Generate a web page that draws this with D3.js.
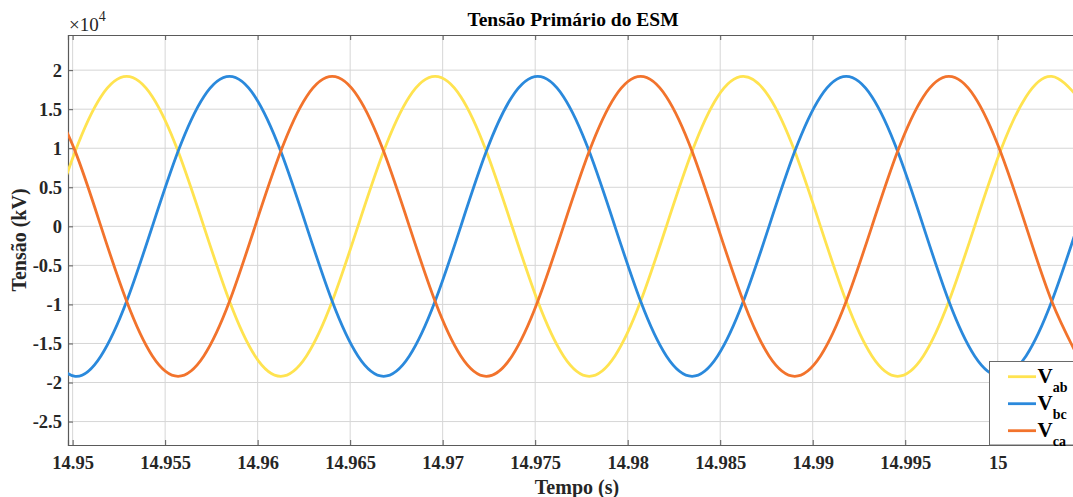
<!DOCTYPE html>
<html><head><meta charset="utf-8">
<script src="https://cdn.jsdelivr.net/npm/d3@7"></script>
<style>
html,body{margin:0;padding:0;background:#fff;overflow:hidden}
svg{display:block}
svg text{font-family:"Liberation Serif","Times New Roman",serif !important}
</style></head>
<body>
<svg id="c" width="1073" height="497"></svg>
<script>
// time samples (s)
const time = [14.94875,14.95014,14.95153,14.95292,14.95431,14.95570,14.95709,14.95848,14.95986,14.96125,
14.96264,14.96403,14.96542,14.96681,14.96820,14.96959,14.97098,14.97236,14.97375,14.97514,
14.97653,14.97792,14.97931,14.98070,14.98209,14.98348,14.98486,14.98625,14.98764,14.98903,
14.99042,14.99181,14.99320,14.99459,14.99598,14.99736,14.99875,15.00014,15.00153,15.00292,15.00431];
const vab = [0,9600,16600,19200,16600,9600,0,-9600,-16600,-19200,-16600,-9600,0,9600,16600,19200,16600,9600,0,-9600,
-16600,-19200,-16600,-9600,0,9600,16600,19200,16600,9600,0,-9600,-16600,-19200,-16600,-9600,0,9600,16600,19200,16600];
const vbc = [-16600,-19200,-16600,-9600,0,9600,16600,19200,16600,9600,0,-9600,-16600,-19200,-16600,-9600,0,9600,16600,19200,
16600,9600,0,-9600,-16600,-19200,-16600,-9600,0,9600,16600,19200,16600,9600,0,-9600,-16600,-19200,-16600,-9600,0];
const vca = [16600,9600,0,-9600,-16600,-19200,-16600,-9600,0,9600,16600,19200,16600,9600,0,-9600,-16600,-19200,-16600,-9600,
0,9600,16600,19200,16600,9600,0,-9600,-16600,-19200,-16600,-9600,0,9600,16600,19200,16600,9600,0,-9600,-16600];
const seriesNames = ["ab","bc","ca"];
const seriesColors = ["#FFE350","#2A89DC","#F2732C"];
const xTicks = [14.95,14.955,14.96,14.965,14.97,14.975,14.98,14.985,14.99,14.995,15];
const xTickLabels = ["14.95","14.955","14.96","14.965","14.97","14.975","14.98","14.985","14.99","14.995","15"];
const yTicks = [-25000,-20000,-15000,-10000,-5000,0,5000,10000,15000,20000];
const yTickLabels = ["-2.5","-2","-1.5","-1","-0.5","0","0.5","1","1.5","2"];

const svg = d3.select("#c");
const L = 68, T = 35, B = 445, R = 1081;
const x = d3.scaleLinear().domain([14.94975, 15.0045]).range([L, R]);
const y = d3.scaleLinear().domain([-28000, 24500]).range([B, T]);

svg.append("defs").append("clipPath").attr("id","clip")
  .append("rect").attr("x",L).attr("y",T).attr("width",R-L).attr("height",B-T);

// grid
const grid = svg.append("g");
grid.selectAll(".gx").data(xTicks).join("line")
  .attr("x1",d=>x(d)).attr("x2",d=>x(d)).attr("y1",T).attr("y2",B)
  .attr("stroke","#d6d6d6").attr("stroke-width",1);
grid.selectAll(".gy").data(yTicks).join("line")
  .attr("x1",L).attr("x2",R).attr("y1",d=>y(d)).attr("y2",d=>y(d))
  .attr("stroke","#d6d6d6").attr("stroke-width",1);

// axes
const xAx = d3.axisBottom(x).tickValues(xTicks).tickFormat((d,i)=>xTickLabels[i]).tickSize(-5).tickPadding(11);
const gx = svg.append("g").attr("transform",`translate(0,${B})`).call(xAx);
const xAxTop = d3.axisTop(x).tickValues(xTicks).tickFormat("").tickSize(-5);
const gxt = svg.append("g").attr("transform",`translate(0,${T})`).call(xAxTop);
const yAx = d3.axisLeft(y).tickValues(yTicks).tickFormat((d,i)=>yTickLabels[i]).tickSize(-5).tickPadding(6);
const gy = svg.append("g").attr("transform",`translate(${L},0)`).call(yAx);
[gx,gxt,gy].forEach(g=>{
  g.attr("font-family",null).attr("font-size",null);
  g.select(".domain").attr("stroke","#5a5a5a").attr("stroke-width",1.2);
  g.selectAll(".tick line").attr("stroke","#5a5a5a");
  g.selectAll("text").attr("font-weight","bold").attr("font-size",18.5)
    .style("font-size","18.5px").attr("fill","#262626");
});

// lines
const data = [vab, vbc, vca];
const line = d3.line().x((d,i)=>x(time[i])).y(d=>y(d)).curve(d3.curveNatural);
const lg = svg.append("g").attr("clip-path","url(#clip)");
data.forEach((s,k)=>{
  lg.append("path").attr("d",line(s)).attr("fill","none")
    .attr("stroke",seriesColors[k]).attr("stroke-width",2.8);
});

// title and labels
svg.append("text").attr("x",573).attr("y",26).attr("text-anchor","middle")
  .attr("font-weight","bold").attr("font-size",19.5).attr("fill","#000").text("Tensão Primário do ESM");
svg.append("text").attr("x",577).attr("y",494).attr("text-anchor","middle")
  .attr("font-weight","bold").attr("font-size",20).attr("fill","#262626").text("Tempo (s)");
svg.append("text").attr("transform","translate(26,240) rotate(-90)").attr("text-anchor","middle")
  .attr("font-weight","bold").attr("font-size",20).attr("fill","#262626").text("Tensão (kV)");
const ex = svg.append("text").attr("x",69).attr("y",31).attr("font-size",19).attr("fill","#262626");
ex.append("tspan").attr("font-size",19).text("×10");
ex.append("tspan").attr("dy",-10).attr("font-size",14).text("4");

// legend
const lgd = svg.append("g");
lgd.append("rect").attr("x",989.5).attr("y",361.5).attr("width",100).attr("height",83.5)
  .attr("fill","#fff").attr("stroke","#6a6a6a").attr("stroke-width",1);
seriesNames.forEach((n,i)=>{
  const yy = 376.7 + i*27;
  lgd.append("line").attr("x1",1008).attr("x2",1036).attr("y1",yy).attr("y2",yy)
    .attr("stroke",seriesColors[i]).attr("stroke-width",2.8);
  const t = lgd.append("text").attr("x",1037.5).attr("y",yy+6).attr("font-weight","bold")
    .attr("font-size",21).attr("fill","#000");
  t.append("tspan").text("V");
  t.append("tspan").attr("dy",9).attr("font-size",14).text(n);
});
</script>
</body></html>
